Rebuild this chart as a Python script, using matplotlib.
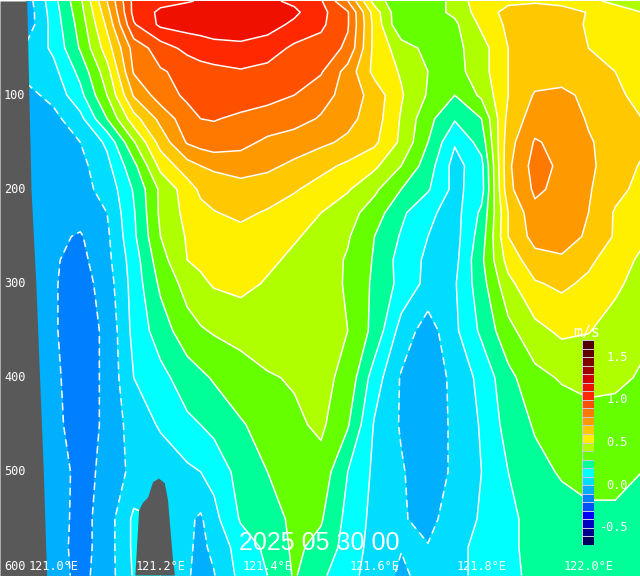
import numpy as np
import matplotlib
matplotlib.use('Agg')
import matplotlib.pyplot as plt

# section grid (m/s)
lons = [120.95, 121.00, 121.05, 121.10, 121.15, 121.20, 121.25, 121.275, 121.30, 121.35, 121.40, 121.45, 121.50,
        121.55, 121.60, 121.65, 121.70, 121.75, 121.80, 121.85, 121.90, 121.95, 122.00, 122.05, 122.10]
depths = [0, 12, 25, 50, 75, 100, 125, 150, 175, 200, 225, 250, 275, 300, 350, 400, 450, 500, 550, 580, 610]

d000 = [-0.05, 0.165, 0.38, 0.70, 1.03, 1.07, 1.095, 1.105, 1.12, 1.13, 1.12, 1.08, 1.01, 0.80, 0.46, 0.31, 0.30, 0.45, 0.55, 0.58, 0.59, 0.57, 0.53, 0.47, 0.44]
d012 = [-0.06, 0.15, 0.36, 0.66, 1.03, 1.12, 1.13, 1.135, 1.14, 1.145, 1.14, 1.12, 1.03, 0.91, 0.55, 0.31, 0.36, 0.42, 0.55, 0.63, 0.64, 0.64, 0.595, 0.56, 0.50]
d025 = [-0.06, 0.14, 0.34, 0.62, 0.99, 1.12, 1.14, 1.145, 1.15, 1.15, 1.14, 1.08, 1.02, 0.91, 0.57, 0.31, 0.33, 0.38, 0.52, 0.62, 0.65, 0.64, 0.59, 0.56, 0.52]
d050 = [0.02, 0.12, 0.31, 0.55, 0.84, 0.95, 1.03, 1.05, 1.07, 1.08, 1.05, 0.98, 0.96, 0.88, 0.57, 0.45, 0.37, 0.37, 0.46, 0.60, 0.66, 0.66, 0.60, 0.56, 0.53]
d075 = [0.03, 0.07, 0.23, 0.46, 0.81, 0.89, 0.93, 0.96, 0.97, 0.99, 0.97, 0.94, 0.91, 0.76, 0.57, 0.49, 0.40, 0.36, 0.46, 0.60, 0.65, 0.66, 0.64, 0.60, 0.56]
d100 = [-0.03, 0.03, 0.17, 0.40, 0.71, 0.85, 0.92, 0.935, 0.95, 0.94, 0.93, 0.90, 0.84, 0.76, 0.66, 0.51, 0.39, 0.30, 0.42, 0.60, 0.71, 0.72, 0.68, 0.62, 0.57]
d125 = [-0.03, -0.03, 0.07, 0.30, 0.56, 0.73, 0.86, 0.90, 0.905, 0.885, 0.86, 0.84, 0.79, 0.73, 0.65, 0.49, 0.33, 0.21, 0.30, 0.63, 0.75, 0.76, 0.69, 0.64, 0.60]
d150 = [-0.03, -0.06, 0.00, 0.12, 0.39, 0.64, 0.81, 0.84, 0.86, 0.83, 0.78, 0.75, 0.72, 0.68, 0.62, 0.48, 0.30, 0.11, 0.24, 0.66, 0.81, 0.77, 0.71, 0.66, 0.62]
d175 = [-0.05, -0.06, -0.03, 0.07, 0.27, 0.53, 0.66, 0.70, 0.72, 0.745, 0.72, 0.68, 0.63, 0.58, 0.52, 0.40, 0.25, 0.06, 0.17, 0.68, 0.84, 0.78, 0.72, 0.65, 0.59]
d200 = [-0.08, -0.06, -0.03, 0.03, 0.21, 0.42, 0.55, 0.62, 0.64, 0.66, 0.65, 0.61, 0.56, 0.51, 0.42, 0.30, 0.21, 0.07, 0.16, 0.67, 0.82, 0.77, 0.71, 0.63, 0.57]
d225 = [-0.08, -0.07, -0.06, 0.00, 0.19, 0.42, 0.53, 0.57, 0.595, 0.62, 0.59, 0.55, 0.50, 0.44, 0.35, 0.22, 0.12, 0.06, 0.22, 0.60, 0.77, 0.78, 0.70, 0.59, 0.55]
d250 = [-0.08, -0.08, -0.11, -0.02, 0.18, 0.40, 0.51, 0.53, 0.55, 0.57, 0.56, 0.51, 0.47, 0.41, 0.30, 0.19, 0.10, 0.06, 0.25, 0.60, 0.74, 0.76, 0.68, 0.59, 0.52]
d275 = [-0.08, -0.09, -0.13, -0.03, 0.15, 0.36, 0.50, 0.52, 0.54, 0.56, 0.52, 0.48, 0.45, 0.39, 0.29, 0.16, 0.08, 0.07, 0.28, 0.54, 0.66, 0.68, 0.62, 0.55, 0.48]
d300 = [-0.07, -0.09, -0.15, -0.05, 0.14, 0.32, 0.44, 0.48, 0.51, 0.53, 0.49, 0.47, 0.44, 0.39, 0.28, 0.17, 0.07, 0.09, 0.26, 0.47, 0.59, 0.62, 0.58, 0.52, 0.46]
d350 = [-0.07, -0.09, -0.15, -0.08, 0.13, 0.25, 0.36, 0.39, 0.41, 0.43, 0.46, 0.45, 0.43, 0.40, 0.27, 0.06, -0.05, 0.08, 0.22, 0.37, 0.47, 0.52, 0.505, 0.46, 0.42]
d400 = [-0.06, -0.08, -0.15, -0.08, 0.10, 0.17, 0.25, 0.28, 0.31, 0.36, 0.39, 0.41, 0.43, 0.37, 0.15, -0.01, -0.07, 0.03, 0.13, 0.27, 0.37, 0.41, 0.43, 0.42, 0.39]
d450 = [-0.06, -0.07, -0.15, -0.08, 0.05, 0.11, 0.18, 0.20, 0.23, 0.29, 0.34, 0.38, 0.42, 0.31, 0.09, -0.01, -0.06, 0.02, 0.11, 0.24, 0.31, 0.34, 0.36, 0.36, 0.34]
d500 = [-0.02, -0.03, -0.14, -0.07, 0.03, 0.05, 0.08, 0.10, 0.13, 0.24, 0.30, 0.35, 0.36, 0.20, 0.08, 0.01, -0.06, 0.02, 0.10, 0.20, 0.27, 0.31, 0.33, 0.33, 0.30]
d550 = [0.00, -0.04, -0.14, -0.05, 0.12, 0.10, 0.02, -0.015, 0.07, 0.21, 0.26, 0.32, 0.31, 0.17, 0.07, 0.01, -0.03, 0.05, 0.11, 0.18, 0.23, 0.26, 0.28, 0.28, 0.27]
d580 = [0.00, -0.05, -0.14, -0.05, 0.12, 0.10, 0.015, -0.02, 0.02, 0.15, 0.22, 0.32, 0.27, 0.16, 0.06, 0.005, 0.005, 0.08, 0.12, 0.18, 0.23, 0.26, 0.28, 0.28, 0.26]
d610 = [0.00, -0.05, -0.13, -0.05, 0.11, 0.10, 0.01, -0.03, -0.005, 0.13, 0.20, 0.31, 0.22, 0.13, 0.06, -0.02, 0.04, 0.08, 0.12, 0.18, 0.22, 0.25, 0.26, 0.26, 0.25]

# bathymetry
coast_lon = [120.95, 120.954, 120.958, 120.967, 120.974, 120.981, 120.987]
coast_depth = [0, 100, 200, 300, 400, 500, 610]
ridge_lon = [121.153, 121.160, 121.167, 121.177, 121.186, 121.197, 121.208, 121.214, 121.223, 121.227]
ridge_depth = [610, 541, 533, 527, 511, 507, 512, 530, 591, 610]

levels = [-0.7, -0.6, -0.5, -0.4, -0.3, -0.2, -0.1, 0.0, 0.1, 0.2, 0.3, 0.4, 0.5, 0.6,
          0.7, 0.8, 0.9, 1.0, 1.1, 1.2, 1.3, 1.4, 1.5, 1.6, 1.7]
colors = ['#000060', '#000090', '#0000c0', '#0000ff', '#0050ff', '#0080ff', '#00b0ff', '#00ddff',
          '#00ffff', '#00ff99', '#66ff00', '#b0ff00', '#fff000', '#ffc800', '#ff9900', '#ff7800',
          '#ff5000', '#ff2800', '#f01000', '#d00000', '#a00000', '#800000', '#600000', '#500000']
cbar_ticks = [-0.5, 0.0, 0.5, 1.0, 1.5]
depth_ticks = [100, 200, 300, 400, 500, 600]
lon_ticks = [121.0, 121.2, 121.4, 121.6, 121.8, 122.0]

speed = np.array([d000, d012, d025, d050, d075, d100, d125, d150, d175, d200, d225, d250, d275, d300,
                  d350, d400, d450, d500, d550, d580, d610])

fig = plt.figure(figsize=(6.4, 5.77), dpi=100)
ax = fig.add_axes([0, 0, 1, 1])
ax.contourf(lons, depths, speed, levels=levels, colors=colors)
line_styles = [(0, (5, 3)) if l <= 0.01 else 'solid' for l in levels]
ax.contour(lons, depths, speed, levels=levels, colors='white', linewidths=1.1, linestyles=line_styles)

land = '#595959'
ax.fill_betweenx(coast_depth, 120.9, coast_lon, color=land, lw=0, zorder=3)
ax.fill(ridge_lon, ridge_depth, color=land, lw=0, zorder=3)

# 53.5 px at 121E, 535 px per degree; depth 0 at y=1, 0.9417 px per m
ax.set_xlim(120.9, 122.0963)
ax.set_ylim(611.6, -1.06)
ax.axis('off')

mono = 'DejaVu Sans Mono'
for d in depth_ticks:
    ax.text(120.9075, d, str(d), color='white', family=mono, fontsize=8.6, ha='left', va='center', zorder=5)
for x in lon_ticks:
    ax.text(x, 600, '%.1f°E' % x, color='white', family=mono, fontsize=8.6, ha='center', va='center', zorder=5)
ax.text(121.497, 576, '2025 05 30 00', color='white', family='Liberation Sans', fontsize=18,
        ha='center', va='center', zorder=5)

# colour bar
cax = fig.add_axes([582 / 640, 1 - 545 / 577, 11.5 / 640, 205 / 577])
cax.pcolormesh([0, 1], levels, np.array(levels[:-1]).reshape(-1, 1) + 0.05, cmap=matplotlib.colors.ListedColormap(colors),
               norm=matplotlib.colors.BoundaryNorm(levels, len(colors)), edgecolors='#c8c8d8', linewidth=0.6)
cax.set_ylim(-0.7, 1.7)
cax.axis('off')
for t in cbar_ticks:
    cax.text(4.0, t, '%.1f' % t, color='white', family=mono, fontsize=8.6, ha='right', va='center', clip_on=False)
cax.text(0.45, 1.79, 'm/s', color='white', family=mono, fontsize=10.8, ha='center', va='center', clip_on=False)

fig.savefig('out.png', dpi=100)
